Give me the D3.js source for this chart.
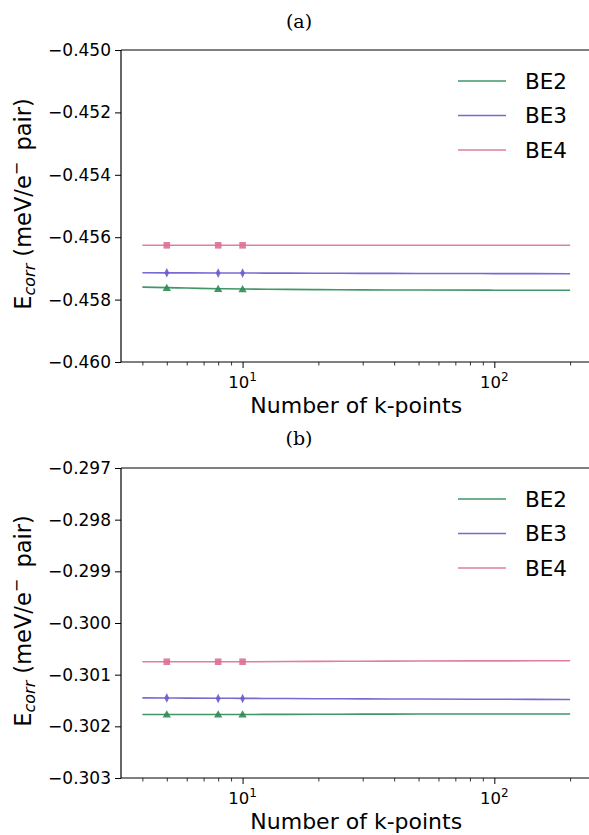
<!DOCTYPE html>
<html><head><meta charset="utf-8">
<script src="https://cdn.jsdelivr.net/npm/d3@7"></script>
<style>body{margin:0;background:#fff}svg{display:block}</style>
</head><body>
<svg id="c" width="589" height="835"></svg>
<script>
// ---- data ----
const seriesNames = ["BE2", "BE3", "BE4"];
const seriesColors = ["#2e8b57", "#6a5acd", "#db7093"];
const kFit = [4, 5, 6, 8, 10, 15, 20, 30, 50, 100, 200];
const kPoints = [5, 8, 10];

const aBE2Fit = [-0.45760, -0.457615, -0.45763, -0.45765, -0.45766, -0.457672, -0.45768, -0.457688, -0.457694, -0.457698, -0.45770];
const aBE3Fit = [-0.45714, -0.457142, -0.457144, -0.457146, -0.457148, -0.457152, -0.457155, -0.457158, -0.457162, -0.457166, -0.45717];
const aBE4Fit = [-0.45626, -0.45626, -0.45626, -0.45626, -0.45626, -0.45626, -0.45626, -0.45626, -0.45626, -0.45626, -0.45626];
const aBE2Pts = [-0.45763, -0.45766, -0.45767];
const aBE3Pts = [-0.45714, -0.45715, -0.45715];
const aBE4Pts = [-0.45626, -0.45626, -0.45626];

const bBE2Fit = [-0.30177, -0.30177, -0.30177, -0.30177, -0.30177, -0.301768, -0.301766, -0.301764, -0.301762, -0.30176, -0.30176];
const bBE3Fit = [-0.30145, -0.301452, -0.301454, -0.301456, -0.301458, -0.301462, -0.301465, -0.301468, -0.301472, -0.301476, -0.30148];
const bBE4Fit = [-0.30075, -0.30075, -0.30075, -0.30075, -0.30075, -0.300745, -0.300742, -0.30074, -0.300736, -0.300733, -0.30073];
const bBE2Pts = [-0.30177, -0.30177, -0.30177];
const bBE3Pts = [-0.30145, -0.30146, -0.30146];
const bBE4Pts = [-0.30075, -0.30075, -0.30075];

const aTicks = [-0.450, -0.452, -0.454, -0.456, -0.458, -0.460];
const bTicks = [-0.297, -0.298, -0.299, -0.300, -0.301, -0.302, -0.303];
const xMajor = [10, 100];
const xMinor = [4, 5, 6, 7, 8, 9, 20, 30, 40, 50, 60, 70, 80, 90, 200];

const panels = [
  {title: "(a)", fits: [aBE2Fit, aBE3Fit, aBE4Fit], pts: [aBE2Pts, aBE3Pts, aBE4Pts], ticks: aTicks, top: 50, bottom: 362, titleY: 28},
  {title: "(b)", fits: [bBE2Fit, bBE3Fit, bBE4Fit], pts: [bBE2Pts, bBE3Pts, bBE4Pts], ticks: bTicks, top: 468, bottom: 778, titleY: 445}
];

// ---- drawing ----
const svg = d3.select("#c");
const left = 121, right = 591.5;
const lmin = Math.log10(d3.min(kFit)), lmax = Math.log10(d3.max(kFit));
const span = lmax - lmin;
const x = d3.scaleLog().domain([Math.pow(10, lmin - 0.05 * span), Math.pow(10, lmax + 0.05 * span)]).range([left, right]);
const font = "DejaVu Sans, sans-serif";

const markerPath = [
  d3.symbol().type(d3.symbolTriangle).size(30)(),
  "M0,-4.8L2.4,0L0,4.8L-2.4,0Z",
  "M-3.3,-3.3H3.3V3.3H-3.3Z"
];

panels.forEach(p => {
  const g = svg.append("g");
  const y = d3.scaleLinear().domain([d3.min(p.ticks), d3.max(p.ticks)]).range([p.bottom, p.top]);

  g.append("text").attr("x", 299).attr("y", p.titleY).attr("text-anchor", "middle")
    .attr("font-family", "DejaVu Serif, serif").attr("font-size", 19).text(p.title);

  // lines
  p.fits.forEach((f, i) => {
    const line = d3.line().curve(d3.curveMonotoneX).x((d, j) => x(kFit[j])).y(d => y(d));
    g.append("path").attr("d", line(f)).attr("fill", "none")
      .attr("stroke", seriesColors[i]).attr("stroke-width", 1.6).attr("opacity", 0.9);
  });
  // markers
  p.pts.forEach((pt, i) => {
    g.selectAll(null).data(pt).enter().append("path")
      .attr("d", markerPath[i])
      .attr("transform", (d, j) => `translate(${x(kPoints[j])},${y(d) + (i === 0 ? 0.6 : 0)})`)
      .attr("fill", seriesColors[i]).attr("opacity", 0.9);
  });

  // axes
  const yAxis = d3.axisLeft(y).tickValues(p.ticks).tickFormat(d3.format(".3f")).tickSize(6).tickPadding(4);
  const ya = g.append("g").attr("transform", `translate(${left},0)`).call(yAxis);
  ya.select(".domain").remove();
  ya.selectAll("text").attr("font-family", font).attr("font-size", 17).attr("fill", "#000");
  ya.selectAll("line").attr("stroke", "#000").attr("stroke-width", 1);

  const xa = g.append("g").attr("transform", `translate(0,${p.bottom})`);
  xa.call(d3.axisBottom(x).tickValues(xMajor).tickSize(6).tickFormat(""));
  xa.select(".domain").remove();
  xa.selectAll("line").attr("stroke", "#000");
  const xm = g.append("g").attr("transform", `translate(0,${p.bottom})`);
  xm.call(d3.axisBottom(x).tickValues(xMinor).tickSize(3.5).tickFormat(""));
  xm.select(".domain").remove();
  xm.selectAll("line").attr("stroke", "#000").attr("stroke-width", 0.8);

  xMajor.forEach(v => {
    const t = g.append("text").attr("x", x(v)).attr("y", p.bottom + 26).attr("text-anchor", "middle")
      .attr("font-family", font).attr("font-size", 16.5);
    t.append("tspan").text("10");
    t.append("tspan").attr("dy", -7).attr("font-size", 12).text(Math.round(Math.log10(v)));
  });

  // spines
  g.append("line").attr("x1", left).attr("x2", right).attr("y1", p.top).attr("y2", p.top).attr("stroke", "#555").attr("stroke-width", 1.4);
  g.append("line").attr("x1", left).attr("x2", left).attr("y1", p.top).attr("y2", p.bottom).attr("stroke", "#000").attr("stroke-width", 1.2);
  g.append("line").attr("x1", left).attr("x2", right).attr("y1", p.bottom).attr("y2", p.bottom).attr("stroke", "#000").attr("stroke-width", 1.2);

  // labels
  g.append("text").attr("x", (left + right) / 2).attr("y", p.bottom + 51).attr("text-anchor", "middle")
    .attr("font-family", font).attr("font-size", 22).text("Number of k-points");

  const yl = g.append("text").attr("transform", `translate(31,${(p.top + p.bottom) / 2 - 2}) rotate(-90)`)
    .attr("text-anchor", "middle").attr("font-family", font).attr("font-size", 22.5);
  yl.append("tspan").text("E");
  yl.append("tspan").attr("dy", 4).attr("font-size", 16).attr("font-style", "italic").text("corr");
  yl.append("tspan").attr("dy", -4).text(" (meV/e");
  yl.append("tspan").attr("dy", -9).attr("font-size", 16).text("\u2212");
  yl.append("tspan").attr("dy", 9).text("\u2002pair)");

  // legend
  seriesNames.forEach((n, i) => {
    const ly = p.top + 31 + i * 34.5;
    g.append("line").attr("x1", 458).attr("x2", 506).attr("y1", ly).attr("y2", ly)
      .attr("stroke", seriesColors[i]).attr("stroke-width", 1.6).attr("opacity", 0.9);
    g.append("text").attr("x", 525).attr("y", ly + 7.5).attr("font-family", font).attr("font-size", 21.5).text(n);
  });
});
</script>
</body></html>
